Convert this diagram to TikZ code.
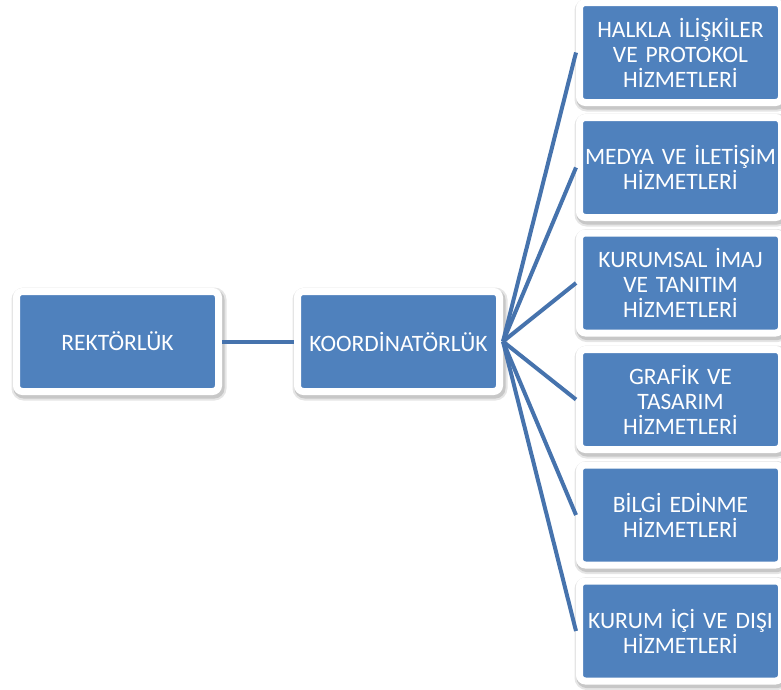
\documentclass[tikz,border=0pt]{standalone}
\usepackage{fontspec}
\setmainfont{Carlito}[WordSpace=0.8]
\definecolor{boxblue}{HTML}{4F81BD}
\definecolor{linkblue}{HTML}{4673AD}
\tikzset{
  orgbox/.style={draw=white, line width=7pt, fill=boxblue, rounded corners=6pt,
    text=white, font=\fontsize{23.5}{25}\selectfont, align=center,
    minimum width=202pt, minimum height=100pt, inner sep=2pt,
    preaction={draw=black!10, line width=13pt, transform canvas={shift={(1.5pt,-2.5pt)}}},
    preaction={draw=black!22, line width=9pt, transform canvas={shift={(1.5pt,-2.5pt)}}}},
  subbox/.style={orgbox, text width=196pt},
  link/.style={draw=linkblue, line width=4pt}
}
\begin{document}
\begin{tikzpicture}[x=1pt, y=-1pt]
\useasboundingbox (0,0) rectangle (781,689);
\node[orgbox] (rek) at (117.5,341.5) {REKTÖRLÜK};
\node[orgbox] (koo) at (398.5,341.5) {KOORDİNATÖRLÜK};
\node[subbox] (s1) at (680.5,52.5) {HALKLA İLİŞKİLER\\VE PROTOKOL\\HİZMETLERİ};
\node[subbox] (s2) at (680.5,167.5) {MEDYA VE İLETİŞİM\\HİZMETLERİ};
\node[subbox] (s3) at (680.5,283) {KURUMSAL İMAJ\\VE TANITIM\\HİZMETLERİ};
\node[subbox] (s4) at (680.5,399.5) {GRAFİK VE\\TASARIM\\HİZMETLERİ};
\node[subbox] (s5) at (680.5,515) {BİLGİ EDİNME\\HİZMETLERİ};
\node[subbox] (s6) at (680.5,631) {KURUM İÇİ VE DIŞI\\HİZMETLERİ};
\draw[link] (rek.east) -- (koo.west);
\foreach \s in {s1,s2,s3,s4,s5,s6}
  \draw[link] (koo.east) -- (\s.west);
\end{tikzpicture}
\end{document}
